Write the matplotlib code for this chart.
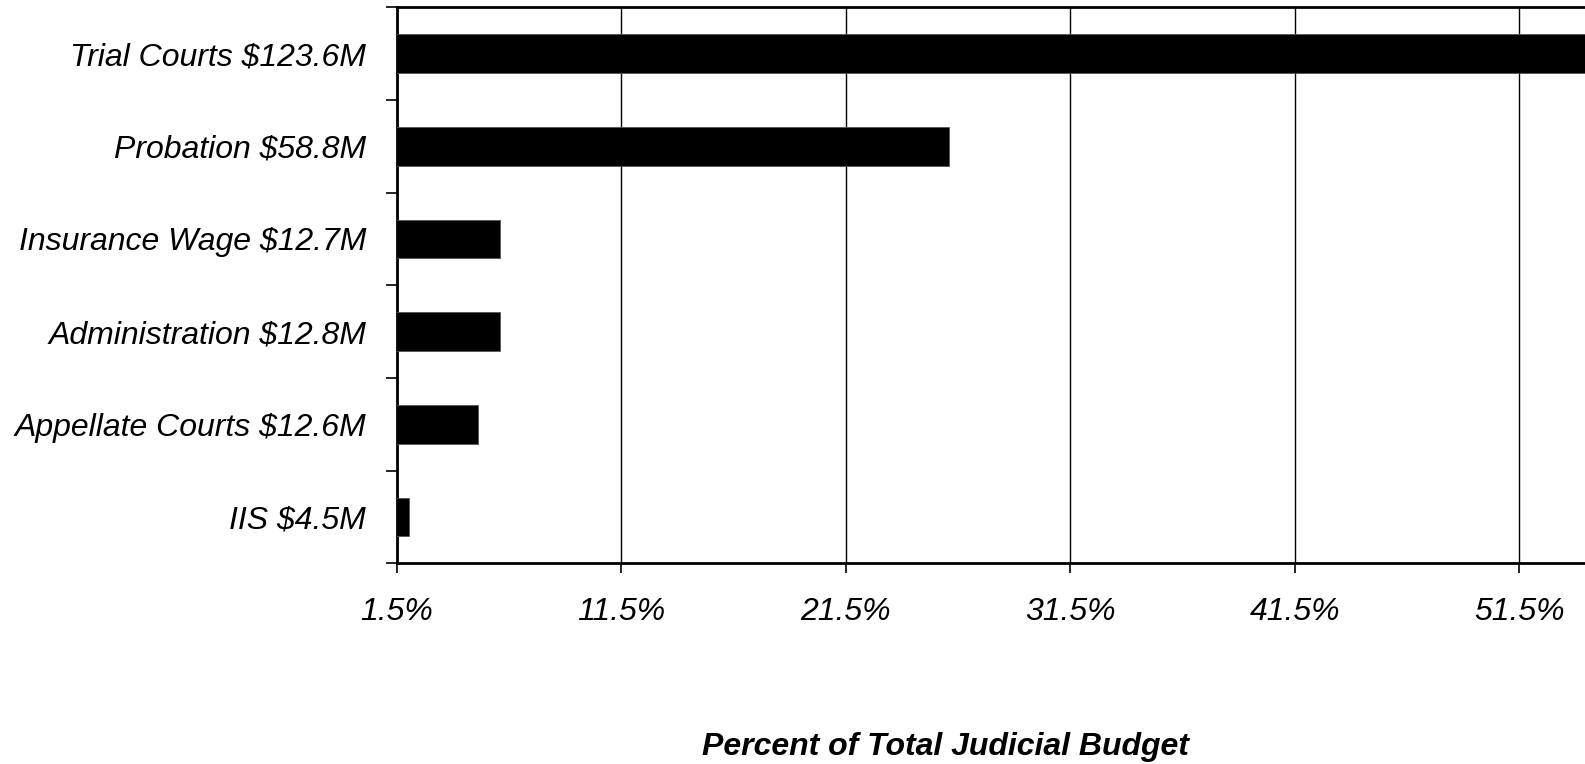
import matplotlib
matplotlib.use('Agg')
import matplotlib.pyplot as plt

# budget share by program (percent of total judicial budget)
programs = ['Trial Courts $123.6M', 'Probation $58.8M', 'Insurance Wage $12.7M',
            'Administration $12.8M', 'Appellate Courts $12.6M', 'IIS $4.5M']
share = [54.9, 26.1, 6.1, 6.1, 5.1, 2.05]
xticks = [1.5, 11.5, 21.5, 31.5, 41.5, 51.5]
xtick_labels = ['1.5%', '11.5%', '21.5%', '31.5%', '41.5%', '51.5%']

plt.rcParams['font.family'] = ['Liberation Sans', 'DejaVu Sans']

fig = plt.figure(figsize=(15.85, 7.64), dpi=100)
ax = fig.add_axes([0.2503, 0.2627, 0.7497, 0.7277])

ypos = [i + 0.5 for i in range(len(programs))]
ax.barh(ypos, share, height=0.42, color='black', edgecolor='#555555', linewidth=0.6, zorder=3)

ax.set_xlim(1.5, 54.43)
ax.set_ylim(len(programs), 0)

ax.set_xticks(xticks)
ax.set_xticklabels(xtick_labels, fontsize=23, style='italic')
ax.grid(axis='x', color='black', linewidth=1.0, zorder=0)

# ticks at category boundaries, labels at centers
ax.set_yticks(range(len(programs) + 1))
ax.set_yticklabels([])
ax.set_yticks(ypos, minor=True)
ax.set_yticklabels(programs, minor=True, fontsize=23, style='italic')
ax.tick_params(axis='y', which='major', direction='out', length=8, width=1.2)
ax.tick_params(axis='y', which='minor', length=0, pad=22)
ax.tick_params(axis='x', direction='out', length=7.5, width=1.2, pad=17)

for s in ['left', 'bottom', 'top']:
    ax.spines[s].set_linewidth(2)
ax.spines['right'].set_visible(False)

fig.text(945 / 1585, 1 - 747 / 764, 'Percent of Total Judicial Budget',
         fontsize=23, style='italic', weight='bold', ha='center', va='center')

fig.savefig('out.png', dpi=100)
